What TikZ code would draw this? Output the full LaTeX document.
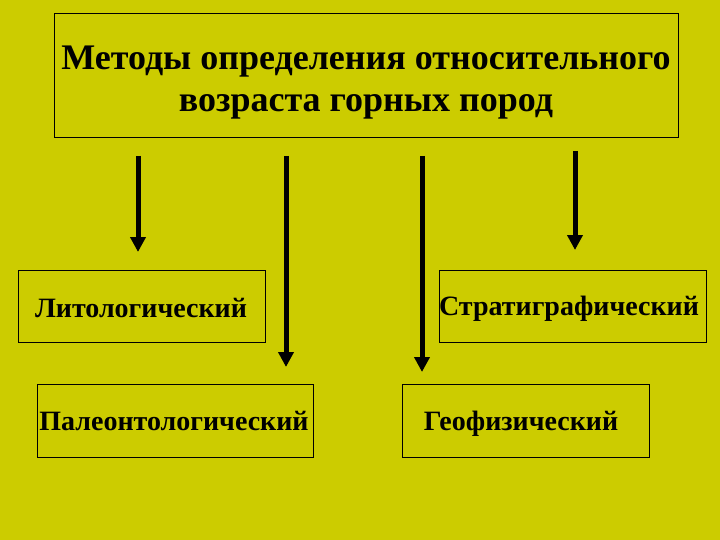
\documentclass[tikz,border=0pt]{standalone}
\usepackage{fontspec}
\setmainfont{Liberation Serif}
\usetikzlibrary{arrows.meta}
\definecolor{bg}{RGB}{204,204,0}
\tikzset{
  box/.style={draw=black, line width=1pt, inner sep=0pt},
  lbl/.style={font=\bfseries\fontsize{28}{32}\selectfont, anchor=base, inner sep=0pt},
  arr/.style={line width=5pt, -{Triangle[length=15pt,width=15pt]}}
}
\begin{document}
\begin{tikzpicture}[x=1pt,y=-1pt]
\fill[bg] (0,0) rectangle (720,540);
\useasboundingbox (0,0) rectangle (720,540);
% boxes
\draw[box] (54,14) rectangle (678,138);
\node[align=center, font=\bfseries\fontsize{36}{42}\selectfont] (title) at (366,83) {Методы определения относительного\\возраста горных пород};
\draw[box] (18,270) rectangle (265,342);
\node[lbl] (lito) at (141,317) {Литологический};
\draw[box] (37,384) rectangle (313,457);
\node[lbl] (paleo) at (174,430) {Палеонтологический};
\draw[box] (439,270) rectangle (706,342);
\node[lbl] (strat) at (569,315) {Стратиграфический};
\draw[box] (402,384) rectangle (649,457);
\node[lbl] (geo) at (521,430) {Геофизический};
% arrows
\coordinate (a1s) at (138,156); \coordinate (a1e) at (138,252);
\coordinate (a2s) at (286,156); \coordinate (a2e) at (286,367);
\coordinate (a3s) at (422,156); \coordinate (a3e) at (422,372);
\coordinate (a4s) at (575,151); \coordinate (a4e) at (575,250);
\draw[arr] (a1s) -- (a1e);
\draw[arr] (a2s) -- (a2e);
\draw[arr] (a3s) -- (a3e);
\draw[arr] (a4s) -- (a4e);
\end{tikzpicture}
\end{document}
